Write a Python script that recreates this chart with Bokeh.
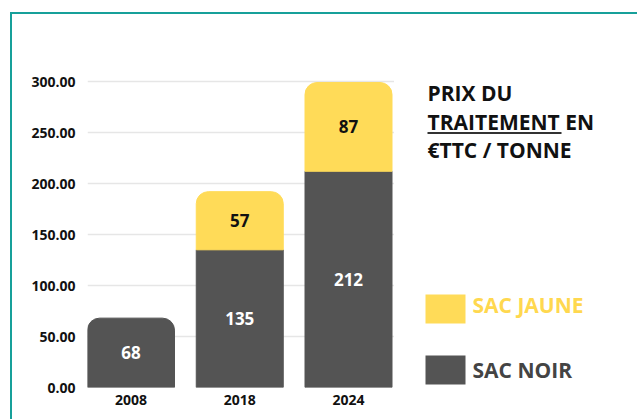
from bokeh.plotting import figure
from bokeh.models import (ColumnDataSource, CDSView, IndexFilter, FixedTicker,
                          NumeralTickFormatter, Label, BoxAnnotation, InlineStyleSheet)
from bokeh.embed import file_html
from bokeh.resources import INLINE
from bokeh.core.properties import value

# ---- data ----
years = ["2008", "2018", "2024"]
sac_noir = [68, 135, 212]
sac_jaune = [0, 57, 87]
y_ticks = [0, 50, 100, 150, 200, 250, 300]
title_lines = ["PRIX DU", "TRAITEMENT EN", "€TTC / TONNE"]
legend_labels = ["SAC JAUNE", "SAC NOIR"]

NOIR = "#545454"
JAUNE = "#FFDB58"
TEAL = "#17A09A"
FONT = "Open Sans"

x = list(range(len(years)))
totals = [n + j for n, j in zip(sac_noir, sac_jaune)]
src = ColumnDataSource(dict(
    x=x, noir=sac_noir, jaune=sac_jaune, total=totals,
    noir_mid=[n / 2 for n in sac_noir],
    jaune_mid=[n + j / 2 for n, j in zip(sac_noir, sac_jaune)],
    noir_lbl=[str(v) for v in sac_noir],
    jaune_lbl=[str(v) if v else "" for v in sac_jaune],
))
top_noir = [i for i, j in enumerate(sac_jaune) if j == 0]
under_noir = [i for i, j in enumerate(sac_jaune) if j > 0]

# frame: left 87px, bottom 387px, spans to right/top edges of the canvas
W, H = 637, 419
FL, FB = 87, 387
PX_PER_X = 108.75      # px per category
PX_PER_Y = 1.02        # px per unit
x0 = -0.4
p = figure(width=W, height=H,
           x_range=(x0, x0 + (W - FL) / PX_PER_X),
           y_range=(0, FB / PX_PER_Y),
           output_backend="svg", toolbar_location=None,
           min_border_left=FL, min_border_right=0,
           min_border_top=0, min_border_bottom=H - FB)
p.outline_line_color = None
p.background_fill_color = "white"
p.border_fill_color = "white"

p.vbar(x="x", top="noir", bottom=0, width=0.8, source=src,
       view=CDSView(filter=IndexFilter(under_noir)), color=NOIR)
p.vbar(x="x", top="noir", bottom=0, width=0.8, source=src,
       view=CDSView(filter=IndexFilter(top_noir)), color=NOIR,
       border_radius=(12, 12, 0, 0))
p.vbar(x="x", top="total", bottom="noir", width=0.8, source=src,
       view=CDSView(filter=IndexFilter(under_noir)), color=JAUNE,
       border_radius=(12, 12, 0, 0))

p.text(x="x", y="noir_mid", text="noir_lbl", source=src, text_align="center",
       text_baseline="middle", text_color="white", text_font=value(FONT),
       text_font_style="bold", text_font_size="17px")
p.text(x="x", y="jaune_mid", text="jaune_lbl", source=src, text_align="center",
       text_baseline="middle", text_color="#111111", text_font=value(FONT),
       text_font_style="bold", text_font_size="17px")

# axes
p.yaxis.ticker = FixedTicker(ticks=y_ticks)
p.yaxis.formatter = NumeralTickFormatter(format="0.00")
p.xaxis.ticker = FixedTicker(ticks=x)
p.xaxis.major_label_overrides = {i: y for i, y in zip(x, years)}
for ax in (p.xaxis, p.yaxis):
    ax.axis_line_color = None
    ax.major_tick_line_color = None
    ax.minor_tick_line_color = None
    ax.major_label_text_font = FONT
    ax.major_label_text_font_style = "bold"
    ax.major_label_text_font_size = "14px"
    ax.major_label_text_color = "#111111"
p.yaxis.major_label_standoff = 6
p.xaxis.major_label_standoff = 1
p.xgrid.visible = False
p.ygrid.ticker = FixedTicker(ticks=y_ticks)
p.ygrid.grid_line_color = "#e6e6e6"
p.ygrid.grid_line_width = 1.5


def box(l, r, t, b, **kw):
    """box in canvas pixels (top-left origin) -> frame screen units"""
    return BoxAnnotation(left=l - FL, right=r - FL, top=FB - t, bottom=FB - b,
                         left_units="screen", right_units="screen",
                         top_units="screen", bottom_units="screen",
                         line_color=None, fill_alpha=1, **kw)


def label(x_, y_, text, size, **kw):
    # y_ = canvas y of the text baseline
    return Label(x=x_ - FL, y=FB - (y_ - 0.4 * size), x_units="screen", y_units="screen",
                 text=text, text_baseline="alphabetic", text_font=FONT,
                 text_font_style="bold", text_font_size=f"{size}px", **kw)


# hide grid lines right of the bars (panel area)
p.add_layout(box(393.5, 700, -20, 500, fill_color="white"))

# title
for i, t in enumerate(title_lines):
    p.add_layout(label(427, 101 + 28.5 * i, t, 21, text_color="#111111"))
p.add_layout(box(427, 561, 131.5, 133.5, fill_color="#333333"))

# legend
for i, (lab, col, tcol) in enumerate(zip(legend_labels, [JAUNE, NOIR], ["#FFD84F", "#444444"])):
    top = 294 + 61 * i
    p.add_layout(box(425, 465, top, top + 29, fill_color=col))
    p.add_layout(label(472, 313 + 65 * i, lab, 21, text_color=tcol))

# teal frame border (left and top edges of the card)
p.stylesheets = [InlineStyleSheet(css=(
    ":host::after{content:'';position:absolute;left:10px;top:12px;right:0;bottom:0;"
    f"border-left:2.5px solid {TEAL};border-top:2.5px solid {TEAL};"
    "pointer-events:none;z-index:10;}"))]

open("out.html", "w").write(file_html(p, INLINE))
